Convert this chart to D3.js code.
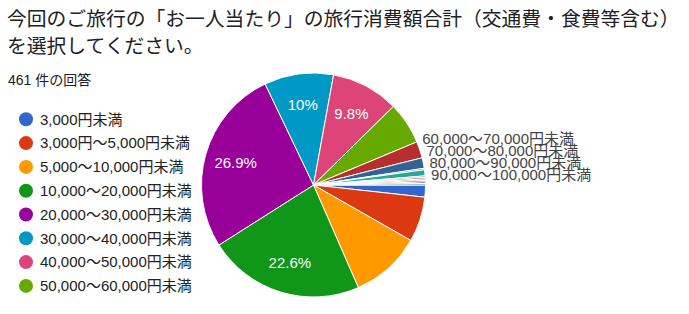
<!DOCTYPE html>
<html>
<head>
<meta charset="utf-8">
<script src="https://cdn.jsdelivr.net/npm/d3@7"></script>
<style>
  body { margin: 0; background: #fff; }
  text { font-family: "Liberation Sans", Arial, "Noto Sans CJK JP", sans-serif; }
</style>
</head>
<body>
<svg id="chart"></svg>
<script>
const svgWidth = 689;
const svgHeight = 314;

// answers, in the order the form lists them (the last few are one-off "other" answers)
const categories = [
  "3,000円未満", "3,000円〜5,000円未満", "5,000〜10,000円未満", "10,000〜20,000円未満",
  "20,000〜30,000円未満", "30,000〜40,000円未満", "40,000〜50,000円未満", "50,000〜60,000円未満",
  "60,000〜70,000円未満", "70,000〜80,000円未満", "80,000〜90,000円未満", "90,000〜100,000円未満",
  "その他1", "その他2", "その他3", "その他4", "その他5", "その他6"
];
const counts = [8, 30, 47, 104, 124, 46, 45, 28, 11, 7, 1, 4, 1, 1, 1, 1, 1, 1];
const colors = [
  "#3366cc", "#dc3912", "#ff9900", "#109618", "#990099", "#0099c6", "#dd4477", "#66aa00",
  "#b82e2e", "#316395", "#994499", "#22aa99", "#aaaa11", "#6633cc", "#e67300", "#8b0707",
  "#651067", "#329262"
];
const legendItems = categories.slice(0, 8);
const outsideLabelled = categories.slice(8, 12);
const pctLabelled = ["10,000〜20,000円未満", "20,000〜30,000円未満", "30,000〜40,000円未満", "40,000〜50,000円未満"];
const titleLines = ["今回のご旅行の「お一人当たり」の旅行消費額合計（交通費・食費等含む）", "を選択してください。"];
const responseCount = "461 件の回答";

const total = d3.sum(counts);
const data = categories.map((c, i) => ({ name: c, value: counts[i] }));

const svg = d3.select("#chart")
  .attr("width", svgWidth)
  .attr("height", svgHeight);

svg.append("rect").attr("width", svgWidth).attr("height", svgHeight).attr("fill", "#fff");

// title
svg.selectAll(".title")
  .data(titleLines)
  .enter().append("text")
  .attr("class", "title")
  .attr("x", 7)
  .attr("y", (d, i) => 26 + i * 27)
  .style("font-family", "'Noto Sans CJK JP', sans-serif")
  .style("font-size", "19.8px")
  .attr("fill", "#202124")
  .text(d => d);

svg.append("text")
  .attr("x", 8)
  .attr("y", 85)
  .style("font-size", "14px")
  .attr("fill", "#202124")
  .text(responseCount);

// pie
const cx = 313.5, cy = 185, r = 112;
const color = d3.scaleOrdinal().domain(categories).range(colors);

const pie = d3.pie()
  .sort(null)
  .value(d => d.value)
  .startAngle(Math.PI / 2)
  .endAngle(Math.PI / 2 + 2 * Math.PI);

const arcs = pie(data);
const arc = d3.arc().innerRadius(0).outerRadius(r);
const labelArc = d3.arc().innerRadius(81).outerRadius(81);

const g = svg.append("g").attr("transform", `translate(${cx},${cy})`);

g.selectAll(".slice")
  .data(arcs)
  .enter().append("path")
  .attr("class", "slice")
  .attr("d", arc)
  .attr("fill", d => color(d.data.name))
  .attr("stroke", "#fff")
  .attr("stroke-width", 1);

const pctFmt = v => {
  const s = (v * 100).toFixed(1);
  return (s.endsWith(".0") ? s.slice(0, -2) : s) + "%";
};

g.selectAll(".pct")
  .data(arcs.filter(d => pctLabelled.includes(d.data.name)))
  .enter().append("text")
  .attr("class", "pct")
  .attr("transform", d => `translate(${labelArc.centroid(d)})`)
  .attr("text-anchor", "middle")
  .attr("dy", "0.35em")
  .style("font-size", "15px")
  .attr("fill", "#fff")
  .text(d => pctFmt(d.value / total));

// outside labels for the thin slices, stacked upward from the lowest one
const R = 118;
const outArcs = arcs.filter(d => outsideLabelled.includes(d.data.name));
outArcs.forEach(d => {
  const mid = (d.startAngle + d.endAngle) / 2;
  d.ly = -R * Math.cos(mid);
});
for (let i = outArcs.length - 2; i >= 0; i--) {
  outArcs[i].ly = Math.min(outArcs[i].ly, outArcs[i + 1].ly - 12);
}
outArcs.forEach(d => {
  d.ly += 3;
  d.lx = Math.sqrt(R * R - d.ly * d.ly);
});

g.selectAll(".out-label")
  .data(outArcs)
  .enter().append("text")
  .attr("class", "out-label")
  .attr("x", d => d.lx)
  .attr("y", d => d.ly)
  .attr("dy", "0.35em")
  .style("font-size", "15px")
  .attr("fill", "#444")
  .text(d => d.data.name);

// legend
const legend = svg.append("g");
const items = legend.selectAll(".legend-item")
  .data(legendItems)
  .enter().append("g")
  .attr("class", "legend-item")
  .attr("transform", (d, i) => `translate(26,${119.3 + i * 23.8})`);

items.append("circle")
  .attr("r", 7)
  .attr("fill", d => color(d));

items.append("text")
  .attr("x", 14)
  .attr("dy", "0.35em")
  .style("font-size", "15px")
  .attr("fill", "#222")
  .text(d => d);
</script>
</body>
</html>
